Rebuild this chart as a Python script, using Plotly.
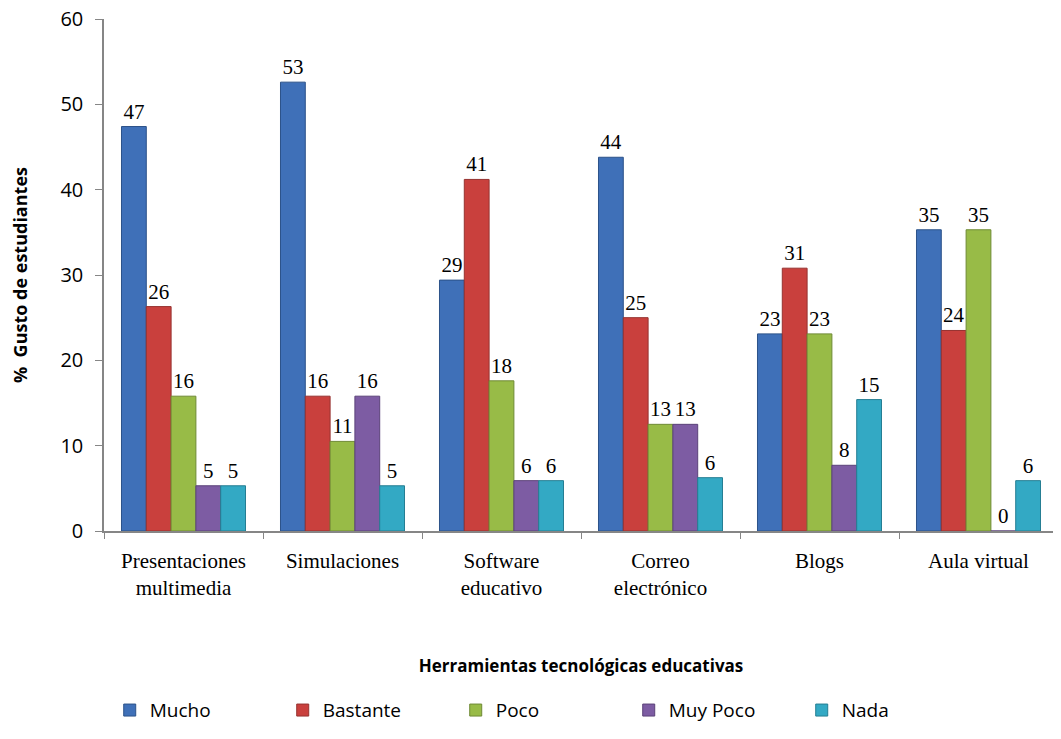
import plotly.graph_objects as go

categories = ["Presentaciones<br>multimedia", "Simulaciones", "Software<br>educativo",
              "Correo<br>electrónico", "Blogs", "Aula virtual"]
series_names = ["Mucho", "Bastante", "Poco", "Muy Poco", "Nada"]
mucho = [47.4, 52.6, 29.4, 43.8, 23.1, 35.3]
bastante = [26.3, 15.8, 41.2, 25.0, 30.8, 23.5]
poco = [15.8, 10.5, 17.6, 12.5, 23.1, 35.3]
muy_poco = [5.3, 15.8, 5.9, 12.5, 7.7, 0.0]
nada = [5.3, 5.3, 5.9, 6.25, 15.4, 5.9]
values = [mucho, bastante, poco, muy_poco, nada]
colors = ["#3F70B8", "#C9403D", "#98BB47", "#7D5CA3", "#33A9C4"]
lines = ["#2C5289", "#963230", "#6F8A35", "#5B4279", "#257E93"]

fig = go.Figure()
for name, vals, c, lc in zip(series_names, values, colors, lines):
    fig.add_trace(go.Bar(
        x=categories, y=vals, name=name,
        marker=dict(color=c, line=dict(color=lc, width=1)),
        texttemplate="%{y:.0f}", textposition="outside", constraintext="none",
        cliponaxis=False,
        textfont=dict(family="Liberation Serif", size=21, color="#000000"),
    ))

fig.update_layout(
    width=1053, height=731,
    paper_bgcolor="white", plot_bgcolor="white",
    barmode="group", bargap=0.22, bargroupgap=0,
    margin=dict(l=96, r=3, t=11, b=208, autoexpand=False),
    font=dict(family="Open Sans, sans-serif", color="#000000"),
    xaxis=dict(
        showline=True, linecolor="#868686", linewidth=1.5,
        ticks="outside", tickson="boundaries", ticklen=6, tickcolor="#868686",
        ticklabelstandoff=10,
        tickfont=dict(family="Liberation Serif", size=21, color="#000000"),
        title=dict(text="<b>Herramientas tecnológicas educativas</b>",
                   font=dict(family="Open Sans", size=17, color="#000000"), standoff=61),
    ),
    yaxis=dict(
        range=[0, 60.001], tickvals=[0, 10, 20, 30, 40, 50, 60],
        showgrid=False, zeroline=False,
        showline=True, linecolor="#868686", linewidth=1.5,
        ticks="outside", ticklen=7, tickcolor="#868686",
        ticklabelstandoff=8, ticklabeloverflow="allow",
        tickfont=dict(family="Open Sans", size=20, color="#000000"),
        title=dict(text="<b>%  Gusto de estudiantes</b>",
                   font=dict(family="Open Sans", size=18, color="#000000"), standoff=28),
    ),
    legend=dict(orientation="h", x=0.006, xanchor="left", y=-0.35, yanchor="middle",
                font=dict(family="Open Sans", size=19, color="#000000"),
                itemwidth=30, entrywidth=128, entrywidthmode="pixels"),
)

fig.write_html("out.html")
